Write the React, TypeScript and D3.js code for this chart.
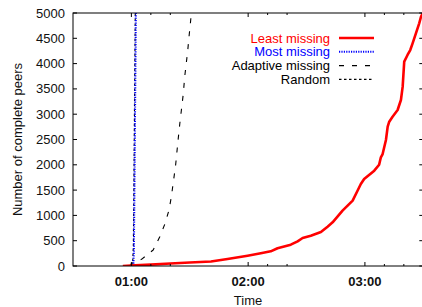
import React, { useRef, useEffect } from 'react';
import * as d3 from 'd3';

const width = 422;
const height = 307;

// time in minutes since start, peers = number of complete peers
const leastMin = [55.6, 62, 70, 80, 90, 100.9, 109.4, 119.7, 126.5, 131.6, 135.1, 141.9, 145.4, 148.0, 152.2, 157.4, 160.8, 163.4, 168.5, 173.7, 176.2, 177.9, 179.6, 184.8, 187.3, 188.2, 189.1, 190.8, 191.7, 192.5, 194.2, 196.8, 198.5, 199.4, 200.2, 201.9, 203.3, 204.5, 206.2, 207.9, 208.8, 209.8];
const leastPeers = [0, 12, 28, 48, 68, 90, 138, 204, 251, 290, 350, 421, 488, 553, 599, 672, 777, 864, 1093, 1291, 1488, 1621, 1719, 1884, 2002, 2148, 2213, 2490, 2753, 2852, 2951, 3083, 3281, 3544, 4038, 4170, 4268, 4400, 4598, 4796, 4925, 5000];

const mostMin = [61.0, 61.3, 61.5, 61.8, 62.1, 62.3];
const mostPeers = [0, 300, 1200, 2600, 4000, 5000];

const adaptMin = [59.2, 60.1, 65.2, 71.2, 74.6, 77.2, 79.3, 80.5, 82.7, 84.0, 84.9, 86.6, 87.5, 88.9, 89.7, 90.4, 90.8];
const adaptPeers = [0, 53, 132, 316, 580, 830, 1100, 1360, 1982, 2490, 2820, 3380, 3775, 4235, 4565, 4828, 5000];

const randMin = [60.6, 61.0, 61.3, 61.6, 62.0];
const randPeers = [0, 400, 1600, 3200, 5000];

const yTicks = [0, 500, 1000, 1500, 2000, 2500, 3000, 3500, 4000, 4500, 5000];
const xMajor = [60, 120, 180];
const xMinor = [70, 80, 130, 140, 190, 200];

const seriesNames = ['Least missing', 'Most missing', 'Adaptive missing', 'Random'];

const font = '"Liberation Sans", Arial, Helvetica, sans-serif';

const fmtTime = (m: number) =>
  `${String(Math.floor(m / 60)).padStart(2, '0')}:${String(m % 60).padStart(2, '0')}`;

const App: React.FC = () => {
  const svgRef = useRef<SVGSVGElement>(null);

  useEffect(() => {
    if (!svgRef.current) return;
    const svg = d3.select(svgRef.current);
    svg.selectAll('*').remove();

    const left = 73, right = 423.3, top = 13, bottom = 266;
    const x = d3.scaleLinear().domain([30, 210]).range([left, right]);
    const y = d3.scaleLinear().domain([0, 5000]).range([bottom, top]);

    const series = [
      { name: seriesNames[0], t: leastMin, v: leastPeers, color: '#ff0000', w: 2.6, dash: null as string | null, text: '#ff0000' },
      { name: seriesNames[1], t: mostMin, v: mostPeers, color: '#0000ff', w: 2, dash: '1.2,1.2', text: '#0000ff' },
      { name: seriesNames[2], t: adaptMin, v: adaptPeers, color: '#000', w: 1.1, dash: '5,8', text: '#000' },
      { name: seriesNames[3], t: randMin, v: randPeers, color: '#000', w: 1.1, dash: '2.5,2.5', text: '#000' },
    ];

    svg.append('clipPath').attr('id', 'plotclip')
      .append('rect')
      .attr('x', left).attr('y', top)
      .attr('width', right - left).attr('height', bottom - top);

    const line = d3.line<[number, number]>()
      .x(d => x(d[0]))
      .y(d => y(d[1]));

    // draw in reverse so least missing sits on top
    const plot = svg.append('g').attr('clip-path', 'url(#plotclip)');
    [...series].reverse().forEach(s => {
      plot.append('path')
        .datum(s.t.map((t, i) => [t, s.v[i]] as [number, number]))
        .attr('d', line)
        .attr('fill', 'none')
        .attr('stroke', s.color)
        .attr('stroke-width', s.w)
        .attr('stroke-dasharray', s.dash)
        .attr('stroke-linejoin', 'round');
    });

    // frame
    svg.append('rect')
      .attr('x', left).attr('y', top)
      .attr('width', right - left).attr('height', bottom - top)
      .attr('fill', 'none').attr('stroke', '#000').attr('stroke-width', 1);

    // y ticks
    const yt = svg.append('g');
    yTicks.forEach(v => {
      yt.append('line').attr('x1', left).attr('x2', left + 4)
        .attr('y1', y(v)).attr('y2', y(v)).attr('stroke', '#000');
      yt.append('line').attr('x1', right - 4).attr('x2', right)
        .attr('y1', y(v)).attr('y2', y(v)).attr('stroke', '#000');
      yt.append('text')
        .attr('x', 65).attr('y', y(v))
        .attr('dy', '0.35em')
        .attr('text-anchor', 'end')
        .attr('font-family', font).attr('font-size', 13)
        .attr('fill', '#111')
        .text(v);
    });

    // x ticks
    const xt = svg.append('g');
    xMajor.forEach(t => {
      xt.append('line').attr('x1', x(t)).attr('x2', x(t))
        .attr('y1', bottom).attr('y2', bottom - 4).attr('stroke', '#000');
      xt.append('line').attr('x1', x(t)).attr('x2', x(t))
        .attr('y1', top).attr('y2', top + 4).attr('stroke', '#000');
      xt.append('text')
        .attr('x', x(t)).attr('y', 286)
        .attr('text-anchor', 'middle')
        .attr('font-family', font).attr('font-size', 13).attr('font-weight', 'bold')
        .attr('fill', '#111')
        .text(fmtTime(t));
    });
    xMinor.forEach(t => {
      xt.append('line').attr('x1', x(t)).attr('x2', x(t))
        .attr('y1', bottom).attr('y2', bottom - 2).attr('stroke', '#000');
      xt.append('line').attr('x1', x(t)).attr('x2', x(t))
        .attr('y1', top).attr('y2', top + 2).attr('stroke', '#000');
    });

    // axis titles
    svg.append('text')
      .attr('x', 248).attr('y', 305)
      .attr('text-anchor', 'middle')
      .attr('font-family', font).attr('font-size', 13)
      .attr('fill', '#111')
      .text('Time');
    svg.append('text')
      .attr('transform', `translate(22, ${(top + bottom) / 2}) rotate(-90)`)
      .attr('text-anchor', 'middle')
      .attr('font-family', font).attr('font-size', 13)
      .attr('fill', '#111')
      .text('Number of complete peers');

    // legend
    const lg = svg.append('g');
    series.forEach((s, i) => {
      const ly = 38 + i * 13.8;
      lg.append('text')
        .attr('x', 330).attr('y', ly)
        .attr('dy', '0.35em')
        .attr('text-anchor', 'end')
        .attr('font-family', font).attr('font-size', 13)
        .attr('fill', s.text)
        .text(s.name);
      lg.append('line')
        .attr('x1', 339).attr('x2', 374)
        .attr('y1', ly).attr('y2', ly)
        .attr('stroke', s.color)
        .attr('stroke-width', s.w)
        .attr('stroke-dasharray', s.dash);
    });
  }, []);

  return (
    <svg ref={svgRef} width={width} height={height}
      style={{ position: 'absolute', left: 0, top: 0, background: '#fff' }} />
  );
};

export default App;
